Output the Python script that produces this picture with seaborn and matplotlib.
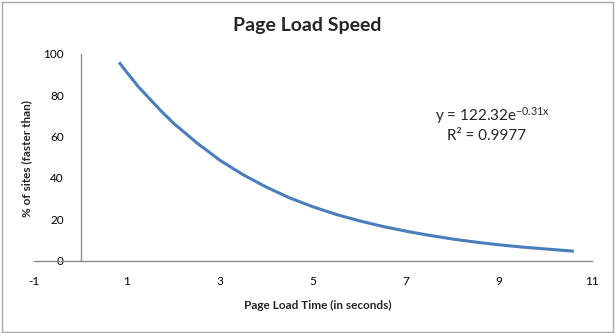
import matplotlib
matplotlib.use("Agg")
import matplotlib.pyplot as plt
from matplotlib.patches import Rectangle
import seaborn as sns
import pandas as pd

# Share of sites that load faster than a given time
load_time = [0.83, 1.0, 1.25, 1.5, 1.75, 2.0, 2.5, 3.0, 3.5, 4.0, 4.5, 5.0, 5.5,
             6.0, 6.5, 7.0, 7.5, 8.0, 8.5, 9.0, 9.5, 10.0, 10.61]
pct_faster = [96.0, 91.0, 84.0, 78.0, 72.0, 66.5, 57.0, 48.5, 41.5, 35.5, 30.3,
              26.0, 22.3, 19.2, 16.5, 14.2, 12.2, 10.4, 8.9, 7.6, 6.5, 5.6, 4.5]
x_ticks = [-1, 1, 3, 5, 7, 9, 11]
y_ticks = [0, 20, 40, 60, 80, 100]

title = "Page Load Speed"
x_label = "Page Load Time (in seconds)"
y_label = "% of sites (faster than)"
fit_eq = "y = 122.32e$^{-0.31x}$"
fit_r2 = "R² = 0.9977"

sns.set_style("white")
plt.rcParams["font.family"] = ["Lato", "DejaVu Sans"]
plt.rcParams["axes.unicode_minus"] = False
plt.rcParams["mathtext.fontset"] = "custom"
plt.rcParams["mathtext.rm"] = "Lato"
plt.rcParams["mathtext.it"] = "Lato"
plt.rcParams["mathtext.bf"] = "Lato:bold"

W, H = 615, 333
fig = plt.figure(figsize=(W / 100, H / 100), dpi=100)
fig.patch.set_facecolor("white")
ax = fig.add_axes([34 / W, 1 - 260.5 / H, (592 - 34) / W, (260.5 - 54) / H])

df = pd.DataFrame({"time": load_time, "pct": pct_faster})
sns.lineplot(data=df, x="time", y="pct", ax=ax, color="#4a7ebb",
             linewidth=2.2, solid_capstyle="butt", solid_joinstyle="round")

ax.set_xlim(-1, 11)
ax.set_ylim(0, 100)
ax.set_xticks(x_ticks)
ax.set_yticks(y_ticks)
ax.set_xlabel("")
ax.set_ylabel("")

for side in ("top", "right"):
    ax.spines[side].set_visible(False)
ax.spines["left"].set_position(("data", 0))
ax.spines["bottom"].set_position(("data", 0))
for side in ("left", "bottom"):
    ax.spines[side].set_color("#8c8c8c")
    ax.spines[side].set_linewidth(1.0)
ax.tick_params(axis="both", length=0, labelsize=8.5, colors="black")
ax.tick_params(axis="y", pad=12)
ax.tick_params(axis="x", pad=11)
for lbl in ax.get_yticklabels():
    lbl.set_zorder(5)

# Trendline equation and goodness of fit
fig.text(435 / W, 1 - 116 / H, fit_eq, fontsize=11, ha="left", va="center")
fig.text(447 / W, 1 - 136 / H, fit_r2, fontsize=11, ha="left", va="center")

fig.text(307 / W, 1 - 26 / H, title, ha="center", va="center",
         fontsize=14, fontweight="bold")
fig.text(318 / W, 1 - 305 / H, x_label, ha="center", va="center",
         fontsize=8.5, fontweight="bold")
fig.text(27 / W, 1 - 159 / H, y_label, ha="center", va="center",
         rotation=90, fontsize=8.5, fontweight="bold")

fig.patches.append(Rectangle((1.5 / W, 1.5 / H), (W - 4) / W, (H - 3) / H,
                             transform=fig.transFigure, fill=False,
                             edgecolor="#a6a6a6", linewidth=1.0))

fig.savefig("out.png", dpi=100, facecolor="white")
